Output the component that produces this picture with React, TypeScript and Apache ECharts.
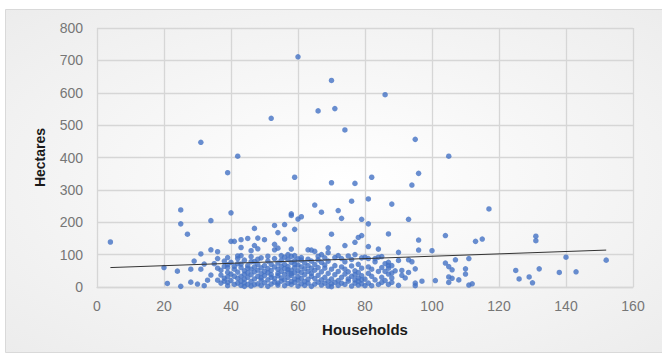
import React, { useEffect, useRef } from "react";
import * as echarts from "echarts";

const xTicks = [0, 20, 40, 60, 80, 100, 120, 140, 160];
const yTicks = [0, 100, 200, 300, 400, 500, 600, 700, 800];

// Scattered points outside the dense cluster [households, hectares]
const outerPoints: number[][] = [
  [4, 139], [60, 711], [70, 638], [86, 594], [66, 544], [71, 551], [52, 521], [74, 485],
  [31, 447], [95, 456], [105, 404], [42, 404], [39, 353], [96, 351], [59, 339], [82, 339],
  [70, 322], [77, 320], [94, 315], [81, 272], [76, 265], [88, 256], [65, 253], [117, 241],
  [25, 238], [72, 236], [40, 229], [67, 231], [58, 226], [58, 221], [73, 212], [61, 217],
  [60, 210], [79, 209], [93, 209], [34, 205], [25, 195], [81, 195], [53, 190], [56, 193],
  [27, 163], [87, 164], [70, 163], [54, 168], [47, 181], [59, 178], [104, 159], [131, 157],
  [131, 143], [79, 159], [78, 153], [115, 148], [113, 141], [96, 145], [40, 141], [41, 141],
  [43, 146], [45, 150], [50, 146], [56, 148], [77, 138], [74, 128], [81, 125], [53, 132],
  [58, 117], [84, 117], [64, 114], [63, 115], [34, 115], [36, 109], [96, 114], [100, 112],
  [69, 121], [43, 122], [90, 107], [140, 92], [152, 83], [111, 88], [107, 84], [104, 74],
  [125, 51], [132, 56], [138, 45], [143, 47], [126, 25], [129, 31], [130, 13], [110, 56],
  [110, 40], [108, 22], [106, 27], [105, 31], [105, 63], [106, 53], [105, 14], [111, 6],
  [112, 10], [101, 20], [97, 18], [95, 56], [95, 12], [95, 4], [90, 5], [90, 82],
  [93, 84], [20, 60], [21, 11], [24, 49], [25, 2], [28, 15], [28, 55], [29, 80],
  [30, 9], [31, 55], [31, 102], [32, 71], [32, 4], [33, 21], [34, 37], [35, 72],
  [36, 21], [37, 37], [77, 100], [85, 94], [87, 76], [87, 66], [80, 92], [81, 88],
  [88, 43], [88, 14], [91, 51], [91, 36], [93, 45], [94, 78], [92, 28], [89, 50],
];

// Dense cluster of points, 35-90 households, under ~130 hectares
const clusterPoints: number[][] = [
  [36, 58], [37, 12], [38, 64], [38, 27], [39, 69], [39, 91], [39, 4], [39, 14],
  [39, 45], [38, 80], [37, 52], [36, 88], [39, 31], [38, 18], [39, 60],
  [40, 20], [40, 40], [40, 76], [41, 8], [41, 33], [41, 55], [41, 64], [42, 12],
  [42, 46], [42, 27], [42, 88], [42, 72], [43, 5], [43, 18], [43, 33], [43, 60],
  [43, 71], [43, 97], [44, 2], [44, 24], [44, 39], [44, 50], [44, 83], [44, 13],
  [45, 8], [45, 30], [45, 58], [45, 44], [45, 66], [42, 96],
  [46, 3], [46, 17], [46, 38], [46, 55], [46, 94], [46, 112], [46, 78], [47, 7],
  [47, 25], [47, 47], [47, 62], [47, 79], [47, 128], [48, 10], [48, 33], [48, 52],
  [48, 70], [48, 86], [48, 151], [48, 118], [49, 5], [49, 21], [49, 41], [49, 59],
  [49, 90], [49, 28], [50, 13], [50, 48], [50, 66], [50, 35],
  [51, 2], [51, 22], [51, 44], [51, 57], [51, 80], [51, 95], [52, 9], [52, 30],
  [52, 51], [52, 70], [52, 38], [53, 15], [53, 26], [53, 62], [53, 88], [53, 115],
  [54, 6], [54, 42], [54, 55], [54, 74], [54, 120], [54, 35], [55, 18], [55, 48],
  [55, 64], [55, 82], [55, 97], [55, 28], [54, 12],
  [56, 4], [56, 22], [56, 39], [56, 57], [56, 70], [56, 92], [57, 11], [57, 30],
  [57, 46], [57, 63], [57, 85], [57, 100], [58, 17], [58, 36], [58, 52], [58, 76],
  [58, 95], [58, 8], [59, 25], [59, 44], [59, 60], [59, 81], [59, 97], [59, 14],
  [60, 3], [60, 32], [60, 50], [60, 68], [60, 87], [60, 21], [59, 70], [57, 54], [58, 41],
  [61, 10], [61, 27], [61, 45], [61, 62], [61, 83], [61, 91], [62, 5], [62, 38],
  [62, 56], [62, 74], [62, 17], [63, 24], [63, 48], [63, 66], [63, 86], [63, 12],
  [64, 2], [64, 33], [64, 58], [64, 80], [64, 42], [65, 9], [65, 26], [65, 70],
  [65, 110], [65, 52],
  [66, 15], [66, 36], [66, 60], [66, 84], [66, 95], [67, 6], [67, 22], [67, 47],
  [67, 76], [67, 100], [68, 12], [68, 30], [68, 58], [68, 90], [68, 68], [69, 3],
  [69, 18], [69, 42], [69, 80], [69, 106], [70, 1], [70, 10],
  [70, 25], [70, 55], [71, 14], [71, 38], [71, 66], [71, 91], [72, 5], [72, 20],
  [72, 48], [72, 97], [73, 12], [73, 30], [73, 62], [73, 88], [74, 8], [74, 40],
  [74, 55], [74, 78], [75, 18], [75, 25], [75, 96], [75, 47],
  [76, 3], [76, 33], [76, 65], [76, 85], [77, 12], [77, 22], [77, 50], [78, 6],
  [78, 28], [78, 45], [78, 70], [78, 18], [79, 10], [79, 35], [79, 58], [79, 90],
  [80, 4], [80, 24], [77, 38], [79, 22],
  [81, 12], [81, 42], [81, 62], [82, 4], [82, 33], [82, 55], [83, 78], [83, 22],
  [84, 8], [84, 48], [84, 92], [85, 30], [85, 60], [85, 14], [83, 88],
  [86, 20], [86, 48], [86, 72], [87, 8], [87, 58], [87, 40], [88, 28], [88, 66],
];

// Linear trend line endpoints
const trendX = [4, 152];
const trendY = [60, 114];

const xTitle = "Households";
const yTitle = "Hectares";

export default function App() {
  const ref = useRef<HTMLDivElement>(null);

  useEffect(() => {
    if (!ref.current) return;
    const chart = echarts.init(ref.current, undefined, { renderer: "svg" });
    const pts = [...outerPoints, ...clusterPoints];
    const labelColor = "#767676";
    const font = "Liberation Sans";
    const gridColor = "#d6d6d6";
    chart.setOption({
      animation: false,
      backgroundColor: "#ffffff",
      graphic: [
        {
          type: "rect",
          z: -10,
          silent: true,
          shape: { x: 5.5, y: 9.5, width: 670, height: 343 },
          style: {
            fill: new echarts.graphic.RadialGradient(0.5, 0.5, 0.75, [
              { offset: 0, color: "#ffffff" },
              { offset: 1, color: "#ebebeb" },
            ]),
            stroke: "#d9d9d9",
            lineWidth: 1,
          },
        },
      ],
      grid: { left: 97, right: 29, top: 28, bottom: 67, containLabel: false },
      xAxis: {
        type: "value",
        min: xTicks[0],
        max: xTicks[xTicks.length - 1],
        interval: 20,
        name: xTitle,
        nameLocation: "middle",
        nameGap: 35,
        nameTextStyle: { fontFamily: font, fontWeight: "bold", fontSize: 15, color: "#1a1a1a" },
        axisLine: { show: true, lineStyle: { color: gridColor, width: 1.3 } },
        axisTick: { show: false },
        axisLabel: { color: labelColor, fontSize: 14, fontFamily: font, margin: 12 },
        splitLine: { show: true, lineStyle: { color: gridColor, width: 1.3 } },
      },
      yAxis: {
        type: "value",
        min: yTicks[0],
        max: yTicks[yTicks.length - 1],
        interval: 100,
        name: yTitle,
        nameLocation: "middle",
        nameGap: 50,
        nameRotate: 90,
        nameTextStyle: { fontFamily: font, fontWeight: "bold", fontSize: 14, color: "#1a1a1a" },
        axisLine: { show: false },
        axisTick: { show: false },
        axisLabel: { color: labelColor, fontSize: 14, fontFamily: font, margin: 14 },
        splitLine: { show: true, lineStyle: { color: gridColor, width: 1.3 } },
      },
      series: [
        {
          type: "scatter",
          data: pts,
          symbolSize: 5.5,
          itemStyle: { color: "#4472C4" },
          z: 3,
        },
        {
          type: "line",
          data: trendX.map((x, i) => [x, trendY[i]]),
          symbol: "none",
          lineStyle: { color: "#333333", width: 1 },
          z: 4,
        },
      ],
    });
    return () => chart.dispose();
  }, []);

  return (
    <div
      ref={ref}
      style={{ position: "fixed", left: 0, top: 0, width: 662, height: 354 }}
    />
  );
}
